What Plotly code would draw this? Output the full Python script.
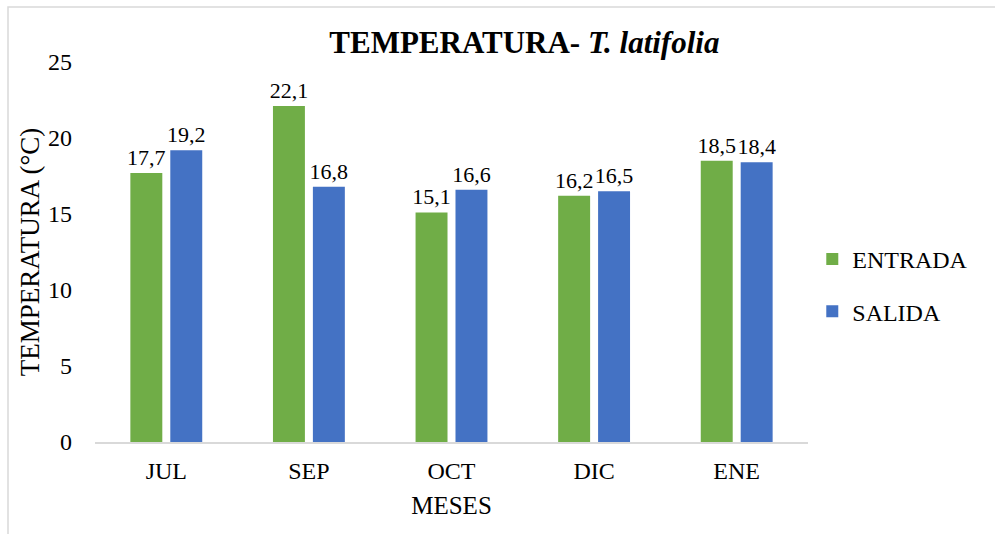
import plotly.graph_objects as go

# Monthly temperature at inlet and outlet (°C)
meses = ["JUL", "SEP", "OCT", "DIC", "ENE"]
entrada = [17.7, 22.1, 15.1, 16.2, 18.5]
salida = [19.2, 16.8, 16.6, 16.5, 18.4]
y_ticks = [0, 5, 10, 15, 20, 25]

FONT = "Liberation Serif"
VERDE = "#70AD47"
AZUL = "#4472C4"
LABEL_SIZE = 24
VALUE_SIZE = 22

fig = go.Figure()
fig.add_trace(go.Bar(
    x=meses, y=entrada, name="ENTRADA", legendgroup="a",
    marker=dict(color=VERDE, line=dict(width=0)),
    texttemplate="%{y:.1f}", textposition="outside", constraintext="none",
    textfont=dict(family=FONT, size=VALUE_SIZE, color="#000000"),
    cliponaxis=False,
))
fig.add_trace(go.Bar(
    x=meses, y=salida, name="SALIDA", legendgroup="b",
    marker=dict(color=AZUL, line=dict(width=0)),
    texttemplate="%{y:.1f}", textposition="outside", constraintext="none",
    textfont=dict(family=FONT, size=VALUE_SIZE, color="#000000"),
    cliponaxis=False,
))

fig.update_layout(
    width=995, height=534,
    margin=dict(l=95, r=187, t=62, b=92, autoexpand=False),
    paper_bgcolor="white", plot_bgcolor="white",
    separators=",.",
    barmode="group", bargap=0.44, bargroupgap=0.2,
    font=dict(family=FONT, size=LABEL_SIZE, color="#000000"),
    title=dict(
        text="<b>TEMPERATURA- <i>T. latifolia</i></b>",
        font=dict(family=FONT, size=31, color="#000000"),
        x=0.527, xanchor="center", xref="container",
        y=1 - 42 / 534, yanchor="middle", yref="container",
    ),
    legend=dict(
        x=1.006, xanchor="left", y=0.412, yanchor="middle",
        font=dict(family=FONT, size=LABEL_SIZE, color="#000000"),
        traceorder="grouped", tracegroupgap=18,
        bgcolor="rgba(0,0,0,0)",
    ),
    shapes=[dict(
        type="rect", xref="paper", yref="paper",
        x0=(8 - 95) / 713, x1=2.0, y0=-1.0, y1=(442 - 7) / 380,
        line=dict(color="#D9D9D9", width=1.5), fillcolor="rgba(0,0,0,0)",
        layer="below",
    )],
)

fig.update_xaxes(
    showline=True, linecolor="#D9D9D9", linewidth=2,
    showgrid=False, ticks="", ticklabelstandoff=6,
    tickfont=dict(family=FONT, size=LABEL_SIZE, color="#000000"),
    title=dict(text="MESES", font=dict(family=FONT, size=25, color="#000000"), standoff=14),
    automargin=False,
)
fig.update_yaxes(
    range=[0, 25], tickvals=y_ticks,
    showline=False, showgrid=False, zeroline=False, ticks="",
    ticklabelstandoff=22,
    tickfont=dict(family=FONT, size=LABEL_SIZE, color="#000000"),
    title=dict(text="TEMPERATURA (°C)", font=dict(family=FONT, size=27, color="#000000"), standoff=0),
    automargin=False,
)

fig.write_html("out.html")
